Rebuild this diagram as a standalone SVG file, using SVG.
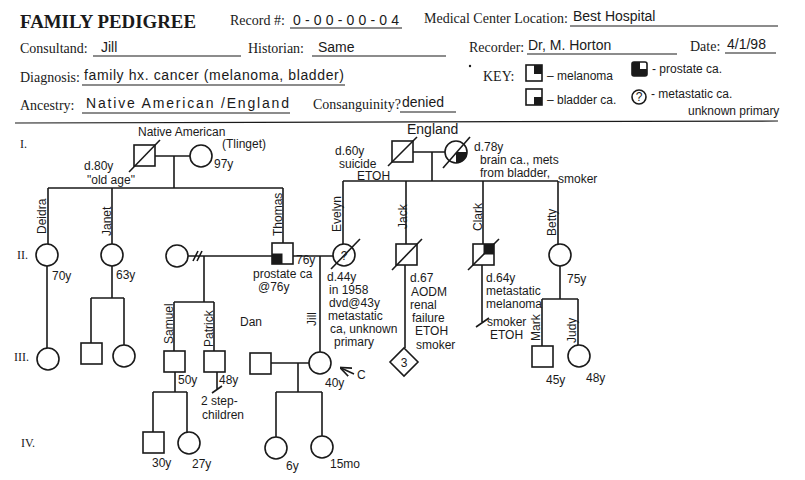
<svg xmlns="http://www.w3.org/2000/svg" width="805" height="480" viewBox="0 0 805 480">
<defs>
<style>
.form{font-family:"Liberation Serif",serif;font-size:14px;fill:#1a1a1a}
.title{font-family:"Liberation Serif",serif;font-size:19px;font-weight:bold;fill:#1a1a1a}
.hw{font-family:"Liberation Sans",sans-serif;font-size:12px;fill:#1a1a1a}
.hwl{font-family:"Liberation Sans",sans-serif;font-size:14px;fill:#1a1a1a}
.gen{font-family:"Liberation Serif",serif;font-size:12px;fill:#1a1a1a}
.ln{stroke:#1a1a1a;stroke-width:1.6;fill:none}
.sym{stroke:#1a1a1a;stroke-width:1.6;fill:#fff}
.fill{fill:#1a1a1a;stroke:none}
.ul{stroke:#1a1a1a;stroke-width:1.2}
</style>
<marker id="arr" viewBox="0 0 10 10" refX="9" refY="5" markerWidth="7" markerHeight="7" orient="auto">
<path d="M0,1 L10,5 L0,9" fill="none" stroke="#1a1a1a" stroke-width="1.5"/>
</marker>
</defs>
<rect width="805" height="480" fill="#fff"/>

<g id="form">
<text class="title" x="20" y="28" textLength="176" lengthAdjust="spacingAndGlyphs">FAMILY PEDIGREE</text>
<text class="form" x="230" y="25">Record #:</text>
<line class="ul" x1="290" y1="28" x2="402" y2="28"/>
<text class="hwl" x="293" y="25" textLength="106">0-00-00-04</text>
<text class="form" x="424" y="23">Medical Center Location:</text>
<line class="ul" x1="570" y1="26" x2="778" y2="26"/>
<text class="hwl" x="573" y="21" font-size="15">Best Hospital</text>
<text class="form" x="20" y="53">Consultand:</text>
<line class="ul" x1="93" y1="56" x2="241" y2="56"/>
<text class="hwl" x="101" y="52">Jill</text>
<text class="form" x="248" y="53">Historian:</text>
<line class="ul" x1="312" y1="56" x2="446" y2="56"/>
<text class="hwl" x="318" y="52" font-size="13">Same</text>
<text class="form" x="469" y="52">Recorder:</text>
<line class="ul" x1="527" y1="54" x2="677" y2="54"/>
<text class="hwl" x="528" y="50" font-size="13">Dr, M. Horton</text>
<text class="form" x="690" y="51">Date:</text>
<line class="ul" x1="725" y1="53" x2="776" y2="53"/>
<text class="hwl" x="727" y="49">4/1/98</text>
<text class="form" x="20" y="82" font-size="13">Diagnosis:</text>
<line class="ul" x1="82" y1="85" x2="345" y2="85"/>
<text class="hwl" x="84" y="80" font-size="13" textLength="260">family hx. cancer (melanoma, bladder)</text>
<text class="form" x="20" y="110">Ancestry:</text>
<line class="ul" x1="82" y1="113" x2="290" y2="113"/>
<text class="hwl" x="86" y="108" textLength="203">Native American /England</text>
<text class="form" x="313" y="109">Consanguinity?</text>
<line class="ul" x1="400" y1="112" x2="456" y2="112"/>
<text class="hwl" x="402" y="107">denied</text>
<circle cx="470" cy="66" r="1.2" class="fill"/>
<text class="form" x="483" y="81" font-size="15">KEY:</text>
<rect class="sym" x="526" y="65" width="16" height="16"/>
<rect class="fill" x="534" y="65" width="8" height="9"/>
<text class="hw" x="547" y="80" font-size="11">– melanoma</text>
<rect class="sym" x="632" y="62" width="15" height="14" rx="2"/>
<path class="fill" d="M632,64 Q632,62 634,62 L640,62 L640,69 L647,69 L647,74 Q647,76 645,76 L634,76 Q632,76 632,74 Z"/>
<text class="hw" x="652" y="73">- prostate ca.</text>
<rect class="sym" x="526" y="89" width="16" height="16"/>
<rect class="fill" x="534" y="97" width="8" height="8"/>
<text class="hw" x="547" y="104">– bladder ca.</text>
<circle class="sym" cx="639" cy="97" r="7"/>
<text class="hw" x="639" y="101" font-size="10" text-anchor="middle">?</text>
<text class="hw" x="651" y="98" font-size="11">- metastatic ca.</text>
<text class="hw" x="688" y="115" font-size="11">unknown primary</text>
<line class="ul" x1="15" y1="123" x2="778" y2="121" stroke-width="1.6"/>
</g>

<g id="generations">
<text class="gen" x="20" y="148">I.</text>
<text class="gen" x="17" y="259">II.</text>
<text class="gen" x="14" y="361">III.</text>
<text class="gen" x="21" y="447">IV.</text>
</g>

<g id="connectors">
<path class="ln" d="M155,156 H190 M174,156 V188 M48,188 H283 M48,188 V244 M112,188 V244 M283,188 V243"/>
<path class="ln" d="M412,152 H445 M432,152 V181 M343,181 H558 M343,181 V244 M406,181 V244 M483,181 V244 M558,181 V244"/>
<path class="ln" d="M188,256 H272 M193,261 L198,251 M197,261 L202,251 M204,256 V302 M174,302 H214 M174,302 V351 M214,302 V351"/>
<path class="ln" d="M293,256 H333 M320,256 V352"/>
<path class="ln" d="M271,363 H309 M298,363 V392 M276,392 H322 M276,392 V437 M322,392 V436"/>
<path class="ln" d="M47,266 V348"/>
<path class="ln" d="M112,266 V298 M91,298 H124 M91,298 V343 M124,298 V345"/>
<path class="ln" d="M175,372 V392 M153,392 H187 M153,392 V432 M187,392 V432"/>
<path class="ln" d="M217,372 V390 M212,393 L222,386"/>
<path class="ln" d="M405,265 V348"/>
<path class="ln" d="M482,265 V322 M476,327 L489,318"/>
<path class="ln" d="M560,266 V299 M542,299 H578 M542,299 V346 M578,299 V345"/>
<line class="ln" x1="354" y1="374" x2="341" y2="368" marker-end="url(#arr)"/>
</g>

<text class="hw" x="138" y="136" font-size="13">Native American</text>
<g id="gen1-nativeamerican-male">
<rect class="sym" x="134" y="145" width="21" height="21"/>
<line class="ln" x1="129" y1="172" x2="160" y2="140"/>
<text class="hw" x="84" y="170" font-size="11.5">d.80y</text>
<text class="hw" x="87" y="184" font-size="11.5">"old age"</text>
</g>
<g id="gen1-nativeamerican-female">
<circle class="sym" cx="201" cy="156" r="11"/>
<text class="hw" x="222" y="148" font-size="9">(Tlinget)</text>
<text class="hw" x="214" y="168">97y</text>
</g>

<text class="hwl" x="407" y="134">England</text>
<g id="gen1-england-male">
<rect class="sym" x="392" y="141" width="21" height="21"/>
<line class="ln" x1="388" y1="166" x2="417" y2="137"/>
<text class="hw" x="335" y="155" font-size="10">d.60y</text>
<text class="hw" x="339" y="168" font-size="10">suicide</text>
<text class="hw" x="357" y="180" font-size="9">ETOH</text>
</g>
<g id="gen1-england-female">
<circle class="sym" cx="456" cy="152" r="11"/>
<path class="fill" d="M456,152 H467 A11,11 0 0 1 456,163 Z"/>
<line class="ln" x1="443" y1="168" x2="470" y2="137"/>
<text class="hw" x="474" y="151" font-size="11.5">d.78y</text>
<text class="hw" x="480" y="164" font-size="10">brain ca., mets</text>
<text class="hw" x="480" y="177" font-size="10">from bladder,</text>
<text class="hw" x="558" y="183" font-size="9.5">smoker</text>
</g>

<g id="deidra">
<circle class="sym" cx="47" cy="255" r="11"/>
<text class="hw" transform="translate(46,234) rotate(-90)" font-size="13">Deidra</text>
<text class="hw" x="52" y="280" font-size="11">70y</text>
</g>
<g id="janet">
<circle class="sym" cx="112" cy="255" r="11"/>
<text class="hw" transform="translate(111,236) rotate(-90)" font-size="13">Janet</text>
<text class="hw" x="116" y="279" font-size="11">63y</text>
</g>
<g id="thomas-exspouse">
<circle class="sym" cx="177" cy="256" r="11"/>
</g>
<g id="thomas">
<rect class="sym" x="272" y="243" width="21" height="21"/>
<rect class="fill" x="272" y="253.5" width="10.5" height="10.5"/>
<text class="hw" transform="translate(282,236) rotate(-90)" font-size="12">Thomas</text>
<text class="hw" x="296" y="264" font-size="9">76y</text>
<text class="hw" x="253" y="278" font-size="10.5">prostate ca</text>
<text class="hw" x="258" y="291" font-size="10.5">@76y</text>
</g>
<g id="evelyn">
<circle class="sym" cx="344" cy="255" r="11"/>
<text class="hw" x="344" y="260" font-size="12" text-anchor="middle">?</text>
<line class="ln" x1="331" y1="269" x2="360" y2="239"/>
<text class="hw" transform="translate(341,232) rotate(-90)" font-size="13">Evelyn</text>
<text class="hw" x="327" y="281" font-size="11.5">d.44y</text>
<text class="hw" x="329" y="294" font-size="11">in 1958</text>
<text class="hw" x="329" y="307" font-size="11">dvd@43y</text>
<text class="hw" x="328" y="320" font-size="11">metastatic</text>
<text class="hw" x="330" y="333" font-size="11">ca, unknown</text>
<text class="hw" x="334" y="346" font-size="11">primary</text>
</g>
<g id="jack">
<rect class="sym" x="396" y="244" width="21" height="21"/>
<line class="ln" x1="392" y1="270" x2="422" y2="239"/>
<text class="hw" transform="translate(407,229) rotate(-90)" font-size="13">Jack</text>
<text class="hw" x="410" y="282">d.67</text>
<text class="hw" x="411" y="296" font-size="11">AODM</text>
<text class="hw" x="410" y="309" font-size="11">renal</text>
<text class="hw" x="412" y="322" font-size="11">failure</text>
<text class="hw" x="415" y="335" font-size="11">ETOH</text>
<text class="hw" x="416" y="349" font-size="10.5">smoker</text>
</g>
<g id="clark">
<rect class="sym" x="473" y="244" width="21" height="21"/>
<rect class="fill" x="483.5" y="244" width="10.5" height="10.5"/>
<line class="ln" x1="468" y1="270" x2="499" y2="239"/>
<text class="hw" transform="translate(482,231) rotate(-90)" font-size="13">Clark</text>
<text class="hw" x="486" y="282">d.64y</text>
<text class="hw" x="486" y="295" font-size="10">metastatic</text>
<text class="hw" x="486" y="308" font-size="10">melanoma</text>
<text class="hw" x="487" y="326" font-size="11">smoker</text>
<text class="hw" x="490" y="339" font-size="11">ETOH</text>
</g>
<g id="betty">
<circle class="sym" cx="560" cy="255" r="11"/>
<text class="hw" transform="translate(556,236) rotate(-90)" font-size="13">Betty</text>
<text class="hw" x="567" y="283">75y</text>
</g>

<g id="deidra-child">
<circle class="sym" cx="48" cy="359" r="11"/>
</g>
<g id="janet-son">
<rect class="sym" x="81" y="343" width="21" height="21"/>
</g>
<g id="janet-daughter">
<circle class="sym" cx="124" cy="356" r="11"/>
</g>
<g id="samuel">
<rect class="sym" x="164" y="351" width="21" height="21"/>
<text class="hw" transform="translate(173,344) rotate(-90)" font-size="12">Samuel</text>
<text class="hw" x="178" y="384" font-size="10">50y</text>
</g>
<g id="patrick">
<rect class="sym" x="204" y="351" width="21" height="21"/>
<text class="hw" transform="translate(213,347) rotate(-90)" font-size="12">Patrick</text>
<text class="hw" x="219" y="384" font-size="10">48y</text>
<text class="hw" x="201" y="405" font-size="11">2 step-</text>
<text class="hw" x="202" y="419" font-size="11">children</text>
</g>
<g id="dan">
<rect class="sym" x="250" y="353" width="21" height="21"/>
<text class="hw" x="240" y="326" font-size="13">Dan</text>
</g>
<g id="jill">
<circle class="sym" cx="320" cy="363" r="11"/>
<text class="hw" transform="translate(316,326) rotate(-90)" font-size="13">Jill</text>
<text class="hw" x="357" y="379" font-size="13">C</text>
<text class="hw" x="325" y="387">40y</text>
</g>
<g id="jack-children">
<path class="sym" d="M404,348 L418,362 L404,376 L390,362 Z"/>
<text class="hw" x="404" y="367" font-size="13" text-anchor="middle">3</text>
</g>
<g id="mark">
<rect class="sym" x="532" y="346" width="21" height="21"/>
<text class="hw" transform="translate(540,341) rotate(-90)" font-size="13">Mark</text>
<text class="hw" x="546" y="384" font-size="11">45y</text>
</g>
<g id="judy">
<circle class="sym" cx="579" cy="356" r="11"/>
<text class="hw" transform="translate(576,343) rotate(-90)" font-size="13">Judy</text>
<text class="hw" x="586" y="382" font-size="11">48y</text>
</g>

<g id="samuel-son">
<rect class="sym" x="143" y="432" width="21" height="21"/>
<text class="hw" x="152" y="467" font-size="11">30y</text>
</g>
<g id="samuel-daughter">
<circle class="sym" cx="189" cy="443" r="11"/>
<text class="hw" x="192" y="468" font-size="11">27y</text>
</g>
<g id="jill-daughter1">
<circle class="sym" cx="276" cy="448" r="11"/>
<text class="hw" x="286" y="470" font-size="11">6y</text>
</g>
<g id="jill-daughter2">
<circle class="sym" cx="322" cy="447" r="11"/>
<text class="hw" x="330" y="468" font-size="11">15mo</text>
</g>
</svg>
